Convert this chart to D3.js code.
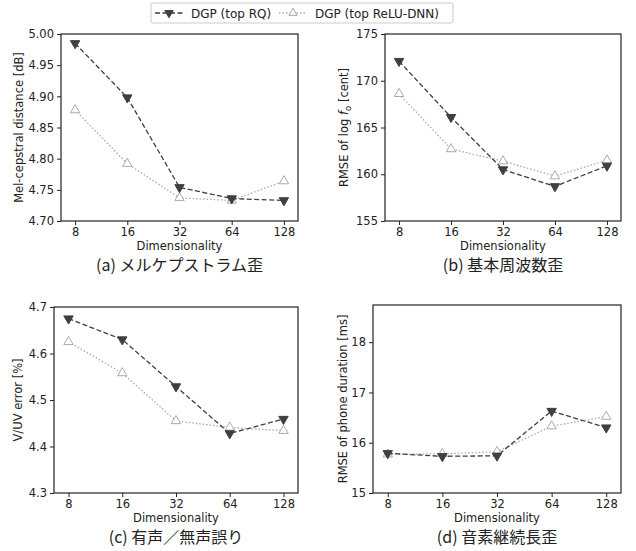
<!DOCTYPE html>
<html>
<head>
<meta charset="utf-8">
<script src="https://cdn.jsdelivr.net/npm/d3@7"></script>
<style>
  body { margin: 0; background: #fff; }
  svg { font-family: "DejaVu Sans", sans-serif; }
  .tick text { font-family: "DejaVu Sans", sans-serif; font-size: 11.5px; fill: #222; }
  .caption { font-family: "Noto Sans CJK JP", "DejaVu Sans", sans-serif; font-size: 16px; fill: #222; }
</style>
</head>
<body>
<svg width="636" height="551"></svg>
<script>
const dims = ["8", "16", "32", "64", "128"];
const seriesNames = ["DGP (top RQ)", "DGP (top ReLU-DNN)"];

// values
const mcdRQ   = [4.985, 4.898, 4.754, 4.736, 4.733];
const mcdReLU = [4.878, 4.792, 4.737, 4.733, 4.764];
const f0RQ    = [172.1, 166.1, 160.5, 158.7, 160.9];
const f0ReLU  = [168.6, 162.7, 161.4, 159.8, 161.5];
const vuvRQ   = [4.675, 4.630, 4.529, 4.428, 4.459];
const vuvReLU = [4.625, 4.558, 4.455, 4.441, 4.434];
const durRQ   = [15.79, 15.73, 15.74, 16.63, 16.30];
const durReLU = [15.77, 15.78, 15.82, 16.33, 16.52];

const panels = [
  { box: [61, 34, 298, 221], y: [4.70, 5.00], ticks: [4.70, 4.75, 4.80, 4.85, 4.90, 4.95, 5.00], fmt: ".2f", ylOff: 42,
    ylabel: "Mel-cepstral distance [dB]", caption: "(a) メルケプストラム歪", rq: mcdRQ, relu: mcdReLU },
  { box: [385, 34, 621, 221], y: [155, 175], ticks: [155, 160, 165, 170, 175], fmt: "d", ylOff: 41,
    ylabel: "f0", caption: "(b) 基本周波数歪", rq: f0RQ, relu: f0ReLU },
  { box: [54, 307, 298, 493], y: [4.3, 4.7], ticks: [4.3, 4.4, 4.5, 4.6, 4.7], fmt: ".1f", ylOff: 36,
    ylabel: "V/UV error [%]", caption: "(c) 有声／無声誤り", rq: vuvRQ, relu: vuvReLU },
  { box: [373, 305, 621, 493], y: [15, 18.74], ticks: [15, 16, 17, 18], fmt: "d", ylOff: 30,
    ylabel: "RMSE of phone duration [ms]", caption: "(d) 音素継続長歪", rq: durRQ, relu: durReLU }
];

const svg = d3.select("svg");
const dark = "#3f3f3f", light = "#aaaaaa";
const tri = d3.symbol().type(d3.symbolTriangle).size(38);

panels.forEach(p => {
  const [x0, y0, x1, y1] = p.box;
  const x = d3.scalePoint().domain(dims).range([x0, x1]).padding(0.27);
  const y = d3.scaleLinear().domain(p.y).range([y1, y0]);
  const g = svg.append("g");

  const xAxis = g.append("g").attr("transform", `translate(0,${y1})`)
    .call(d3.axisBottom(x).tickSize(4).tickPadding(3));
  const yAxis = g.append("g").attr("transform", `translate(${x0},0)`)
    .call(d3.axisLeft(y).tickValues(p.ticks).tickFormat(d3.format(p.fmt)).tickSize(4).tickPadding(3));
  [xAxis, yAxis].forEach(a => {
    a.attr("font-family", null).attr("font-size", null);
    a.select(".domain").remove();
    a.selectAll("line").attr("stroke", "#222");
  });

  g.append("rect").attr("x", x0).attr("y", y0).attr("width", x1 - x0).attr("height", y1 - y0)
    .attr("fill", "none").attr("stroke", "#222").attr("stroke-width", 1.2);

  const line = d3.line().x((d, i) => x(dims[i])).y(d => y(d));
  g.append("path").datum(p.relu).attr("d", line).attr("fill", "none")
    .attr("stroke", light).attr("stroke-width", 1.3).attr("stroke-dasharray", "1.5,2");
  g.append("path").datum(p.rq).attr("d", line).attr("fill", "none")
    .attr("stroke", dark).attr("stroke-width", 1.3).attr("stroke-dasharray", "5,2.5");

  g.selectAll(".mu").data(p.relu).join("path")
    .attr("transform", (d, i) => `translate(${x(dims[i])},${y(d)})`)
    .attr("d", tri).attr("fill", "#fff").attr("stroke", light).attr("stroke-width", 1);
  g.selectAll(".md").data(p.rq).join("path")
    .attr("transform", (d, i) => `translate(${x(dims[i])},${y(d)}) rotate(180)`)
    .attr("d", tri).attr("fill", dark).attr("stroke", dark).attr("stroke-width", 1);

  g.append("text").attr("x", (x0 + x1) / 2).attr("y", y1 + 29).attr("text-anchor", "middle")
    .attr("font-size", 11.5).attr("fill", "#222").text("Dimensionality");

  const yl = g.append("text").attr("transform", `translate(${x0 - p.ylOff + 4},${(y0 + y1) / 2}) rotate(-90)`)
    .attr("text-anchor", "middle").attr("font-size", 11.5).attr("fill", "#222");
  if (p.ylabel === "f0") {
    yl.append("tspan").text("RMSE of log ");
    yl.append("tspan").attr("font-style", "italic").text("f");
    yl.append("tspan").attr("font-size", 8.5).attr("dy", 3).text("o");
    yl.append("tspan").attr("dy", -3).text(" [cent]");
  } else yl.text(p.ylabel);

  g.append("text").attr("class", "caption").attr("x", (x0 + x1) / 2).attr("y", y1 + 50)
    .attr("text-anchor", "middle").text(p.caption);
});

// legend
const lg = svg.append("g");
lg.append("rect").attr("x", 151).attr("y", 3).attr("width", 302).attr("height", 20).attr("rx", 2)
  .attr("fill", "#fff").attr("stroke", "#ccc");
const items = [
  { x: 155, name: seriesNames[0], color: dark, dash: "5,2.5", down: true },
  { x: 279, name: seriesNames[1], color: light, dash: "1.5,2", down: false }
];
items.forEach(it => {
  lg.append("line").attr("x1", it.x).attr("x2", it.x + 28).attr("y1", 13).attr("y2", 13)
    .attr("stroke", it.color).attr("stroke-width", 1.3).attr("stroke-dasharray", it.dash);
  lg.append("path").attr("transform", `translate(${it.x + 14},13)${it.down ? " rotate(180)" : ""}`)
    .attr("d", d3.symbol().type(d3.symbolTriangle).size(30))
    .attr("fill", it.down ? it.color : "#fff").attr("stroke", it.color);
  lg.append("text").attr("x", it.x + 36).attr("y", 17.5).attr("font-size", 12).attr("fill", "#222").text(it.name);
});
</script>
</body>
</html>
